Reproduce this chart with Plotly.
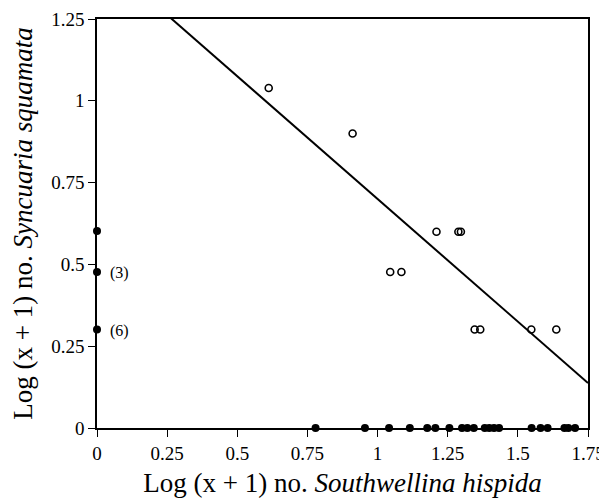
import plotly.graph_objects as go

# Open circles: both species present
open_x = [0.612, 0.911, 1.045, 1.085, 1.21, 1.288, 1.297, 1.346, 1.366, 1.548, 1.637]
open_y = [1.039, 0.900, 0.477, 0.477, 0.600, 0.600, 0.600, 0.301, 0.301, 0.301, 0.301]

# Filled circles: only one species present
filled_x = [0.779, 0.955, 1.041, 1.115, 1.177, 1.206, 1.256, 1.301, 1.320, 1.343,
            1.382, 1.398, 1.415, 1.433, 1.549, 1.581, 1.606, 1.666, 1.680, 1.704,
            0.0, 0.0, 0.0]
filled_y = [0.0] * 20 + [0.602, 0.477, 0.301]

# Count labels for stacked points
count_y = [0.477, 0.301]
count_text = ["(3)", "(6)"]

# Regression line
intercept = 1.45
slope = -0.75
line_x = [0.0, 1.75]

x_ticks = [0, 0.25, 0.5, 0.75, 1, 1.25, 1.5, 1.75]
x_tick_labels = ["0", "0.25", "0.5", "0.75", "1", "1.25", "1.5", "1.75"]
y_ticks = [0, 0.25, 0.5, 0.75, 1, 1.25]
y_tick_labels = ["0", "0.25", "0.5", "0.75", "1", "1.25"]

FONT = "Liberation Serif"

fig = go.Figure()
fig.add_trace(go.Scatter(
    x=line_x, y=[intercept + slope * v for v in line_x], mode="lines",
    line=dict(color="black", width=2), hoverinfo="skip"))
fig.add_trace(go.Scatter(
    x=open_x, y=open_y, mode="markers",
    marker=dict(symbol="circle-open", size=7, color="black", line=dict(width=1.6, color="black")),
    cliponaxis=False))
fig.add_trace(go.Scatter(
    x=filled_x, y=filled_y, mode="markers",
    marker=dict(symbol="circle", size=8, color="black"),
    cliponaxis=False))

for yv, t in zip(count_y, count_text):
    fig.add_annotation(x=0, y=yv, text=t, showarrow=False, xanchor="left", xshift=11,
                       yshift=-1, font=dict(family=FONT, size=16, color="black"))

axis_common = dict(
    showgrid=False, zeroline=False, showline=True, linecolor="black", linewidth=1.6,
    mirror=True, ticks="outside", ticklen=7, tickwidth=1.4, tickcolor="black",
    automargin=False,
    tickfont=dict(family=FONT, size=19, color="black"))

fig.update_layout(
    width=599, height=492, showlegend=False,
    paper_bgcolor="white", plot_bgcolor="white",
    margin=dict(l=89, r=19, t=11, b=72),
    font=dict(family=FONT, color="black"),
    xaxis=dict(range=[0, 1.75], tickvals=x_ticks, ticktext=x_tick_labels,
               title=dict(text="Log (x + 1) no. <i>Southwellina hispida</i>",
                          font=dict(family=FONT, size=27, color="black"), standoff=11),
               **axis_common),
    yaxis=dict(range=[0, 1.25], tickvals=y_ticks, ticktext=y_tick_labels,
               title=dict(text="Log (x + 1) no. <i>Syncuaria squamata</i>",
                          font=dict(family=FONT, size=27, color="black"), standoff=13),
               **axis_common),
)

fig.write_html("out.html")
